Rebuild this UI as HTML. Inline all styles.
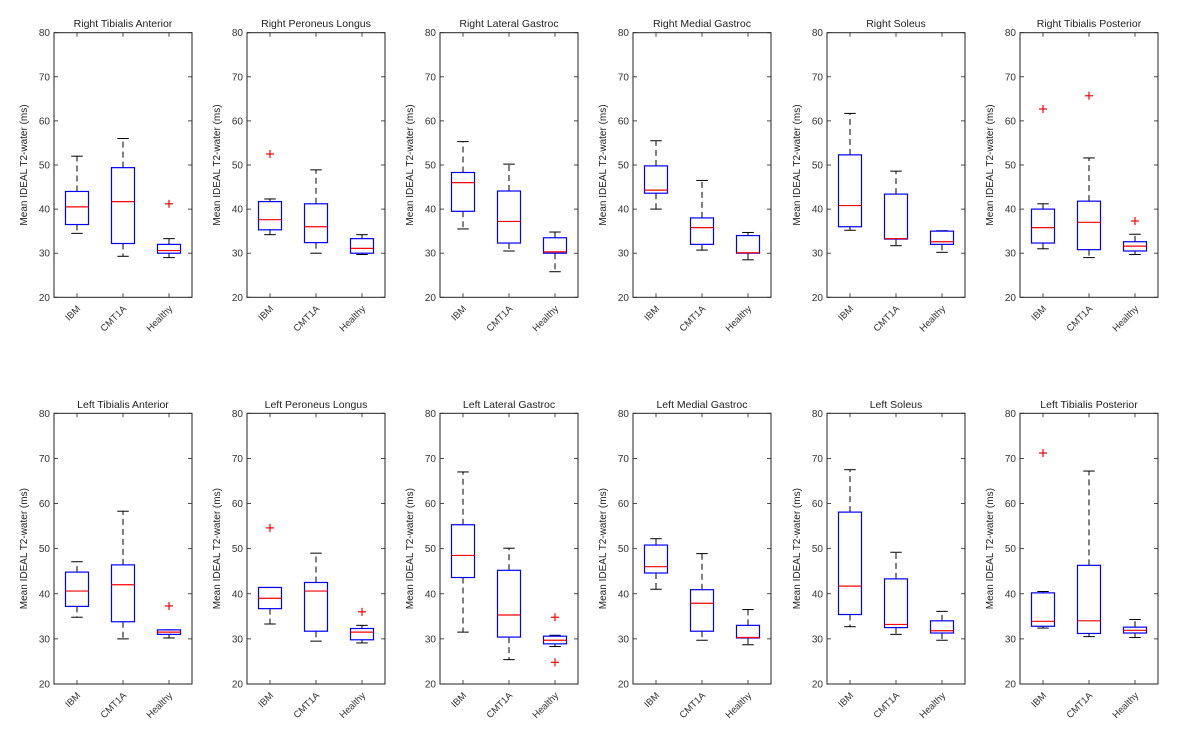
<!DOCTYPE html>
<html><head><meta charset="utf-8"><style>
body{margin:0;background:#fff;}
svg{display:block;font-family:"Liberation Sans","DejaVu Sans",sans-serif;}
</style></head><body>
<svg id="fig" width="1177" height="740" viewBox="0 0 1177 740" xmlns="http://www.w3.org/2000/svg"></svg>
<script>
const categories = ["IBM","CMT1A","Healthy"];
const titles = ["Right Tibialis Anterior","Right Peroneus Longus","Right Lateral Gastroc","Right Medial Gastroc","Right Soleus","Right Tibialis Posterior",
"Left Tibialis Anterior","Left Peroneus Longus","Left Lateral Gastroc","Left Medial Gastroc","Left Soleus","Left Tibialis Posterior"];
const yTicks = [20,30,40,50,60,70,80];
// each box: [lowWhisker, q1, median, q3, highWhisker]
const stats = [
 [[34.5,36.5,40.5,44,52],[29.3,32.2,41.7,49.4,56],[29,30,30.6,32,33.3]],
 [[34.2,35.3,37.6,41.7,42.3],[30,32.4,36,41.2,48.9],[29.7,30,31.1,33.3,34.2]],
 [[35.5,39.5,46,48.3,55.3],[30.5,32.3,37.2,44.1,50.2],[25.8,30,30.3,33.5,34.8]],
 [[40,43.6,44.3,49.8,55.5],[30.7,32,35.8,38,46.5],[28.5,30,30.1,34,34.7]],
 [[35.2,36,40.8,52.3,61.7],[31.7,33.2,33.3,43.4,48.6],[30.2,32,32.6,35,35.1]],
 [[31,32.3,35.8,40,41.2],[29,30.8,37,41.8,51.6],[29.7,30.5,31.6,32.6,34.3]],
 [[34.8,37.2,40.6,44.8,47.1],[30,33.8,42,46.4,58.3],[30.2,31,31.5,32,32]],
 [[33.3,36.7,39,41.4,41.4],[29.5,31.7,40.6,42.5,49],[29.1,29.8,31.5,32.3,33]],
 [[31.5,43.6,48.5,55.3,67],[25.4,30.4,35.3,45.2,50.1],[28.3,28.9,29.7,30.6,30.8]],
 [[41,44.6,46,50.8,52.2],[29.7,31.7,37.9,40.9,48.9],[28.7,30.2,30.3,33,36.5]],
 [[32.7,35.4,41.7,58.1,67.5],[31,32.5,33.2,43.3,49.2],[29.7,31.3,31.8,34,36.1]],
 [[32.4,32.8,33.9,40.2,40.5],[30.5,31.2,34,46.3,67.2],[30.3,31.3,31.9,32.6,34.3]]
];
const outliers = [
 [[],[],[41.2]],
 [[52.5],[],[]],
 [[],[],[]],
 [[],[],[]],
 [[],[],[]],
 [[62.7],[65.7],[37.3]],
 [[],[],[37.3]],
 [[54.6],[],[36]],
 [[],[],[34.8,24.8]],
 [[],[],[]],
 [[],[],[]],
 [[71.2],[],[]]
];
const svg=document.getElementById('fig');
const NS="http://www.w3.org/2000/svg";
function mk(tag,attrs,parent){const e=document.createElementNS(NS,tag);for(const k in attrs)e.setAttribute(k,attrs[k]);(parent||svg).appendChild(e);return e;}
const lefts=[54,247,440,633,827,1020], W=138;
const rows=[{top:32.7,bot:297.3,ty:27},{top:413.3,bot:684,ty:408}];
for(let p=0;p<12;p++){
 const r=rows[Math.floor(p/6)], L=lefts[p%6];
 const g=mk('g',{});
 
 
 const ys=v=>r.bot-(v-20)/60*(r.bot-r.top);
 const xs=c=>L+(c+0.5)/3*W;
 const bw=(W/3)*0.25;
 const t=mk('text',{x:L+W/2,y:r.ty,'text-anchor':'middle','font-size':'10.5',fill:'#222'},g);
 t.textContent=titles[p];
 
 
 const yl=mk('text',{transform:`translate(${L-27},${(r.top+r.bot)/2}) rotate(-90)`,'text-anchor':'middle','font-size':'10',fill:'#222'},g);
 yl.textContent='Mean IDEAL T2-water (ms)';
 
 
 yTicks.forEach(v=>{
  const y=ys(v);
  mk('line',{x1:L,x2:L+4,y1:y,y2:y,stroke:'#222','stroke-width':0.8},g);
  mk('line',{x1:L+W-4,x2:L+W,y1:y,y2:y,stroke:'#222','stroke-width':0.8},g);
  const tt=mk('text',{x:L-4,y:y+3.5,'text-anchor':'end','font-size':'10',fill:'#333'},g);
  tt.textContent=v;
  
  
 });
 categories.forEach((c,i)=>{
  const x=xs(i);
  mk('line',{x1:x,x2:x,y1:r.bot,y2:r.bot-4,stroke:'#222','stroke-width':0.8},g);
  mk('line',{x1:x,x2:x,y1:r.top,y2:r.top+4,stroke:'#222','stroke-width':0.8},g);
  const xt=mk('text',{transform:`translate(${x+4},${r.bot+12}) rotate(-45)`,'text-anchor':'end','font-size':'9.5',fill:'#333'},g);
  xt.textContent=c;
  
  
  const s=stats[p][i];
  const bg=mk('g',{},g);
  
  
  mk('line',{x1:x,x2:x,y1:ys(s[3]),y2:ys(s[4]),stroke:'#000','stroke-width':1,'stroke-dasharray':'6,4'},bg);
  mk('line',{x1:x,x2:x,y1:ys(s[1]),y2:ys(s[0]),stroke:'#000','stroke-width':1,'stroke-dasharray':'6,4'},bg);
  mk('line',{x1:x-bw/2,x2:x+bw/2,y1:ys(s[4]),y2:ys(s[4]),stroke:'#000','stroke-width':1},bg);
  mk('line',{x1:x-bw/2,x2:x+bw/2,y1:ys(s[0]),y2:ys(s[0]),stroke:'#000','stroke-width':1},bg);
  mk('rect',{x:x-bw,y:ys(s[3]),width:2*bw,height:ys(s[1])-ys(s[3]),fill:'#fff',stroke:'#0000ff','stroke-width':1.2},bg);
  mk('line',{x1:x-bw,x2:x+bw,y1:ys(s[2]),y2:ys(s[2]),stroke:'#ff0000','stroke-width':1.2},bg);
  outliers[p][i].forEach(o=>{
   const y=ys(o);
   const og=mk('g',{},bg);
   
   
   mk('line',{x1:x-4,x2:x+4,y1:y,y2:y,stroke:'#ff0000','stroke-width':1.2},og);
   mk('line',{x1:x,x2:x,y1:y-4,y2:y+4,stroke:'#ff0000','stroke-width':1.2},og);
  });
 });
 const frame=mk('rect',{x:L,y:r.top,width:W,height:r.bot-r.top,fill:'none',stroke:'#222','stroke-width':1},g);
 
 
}
</script>
</body></html>
